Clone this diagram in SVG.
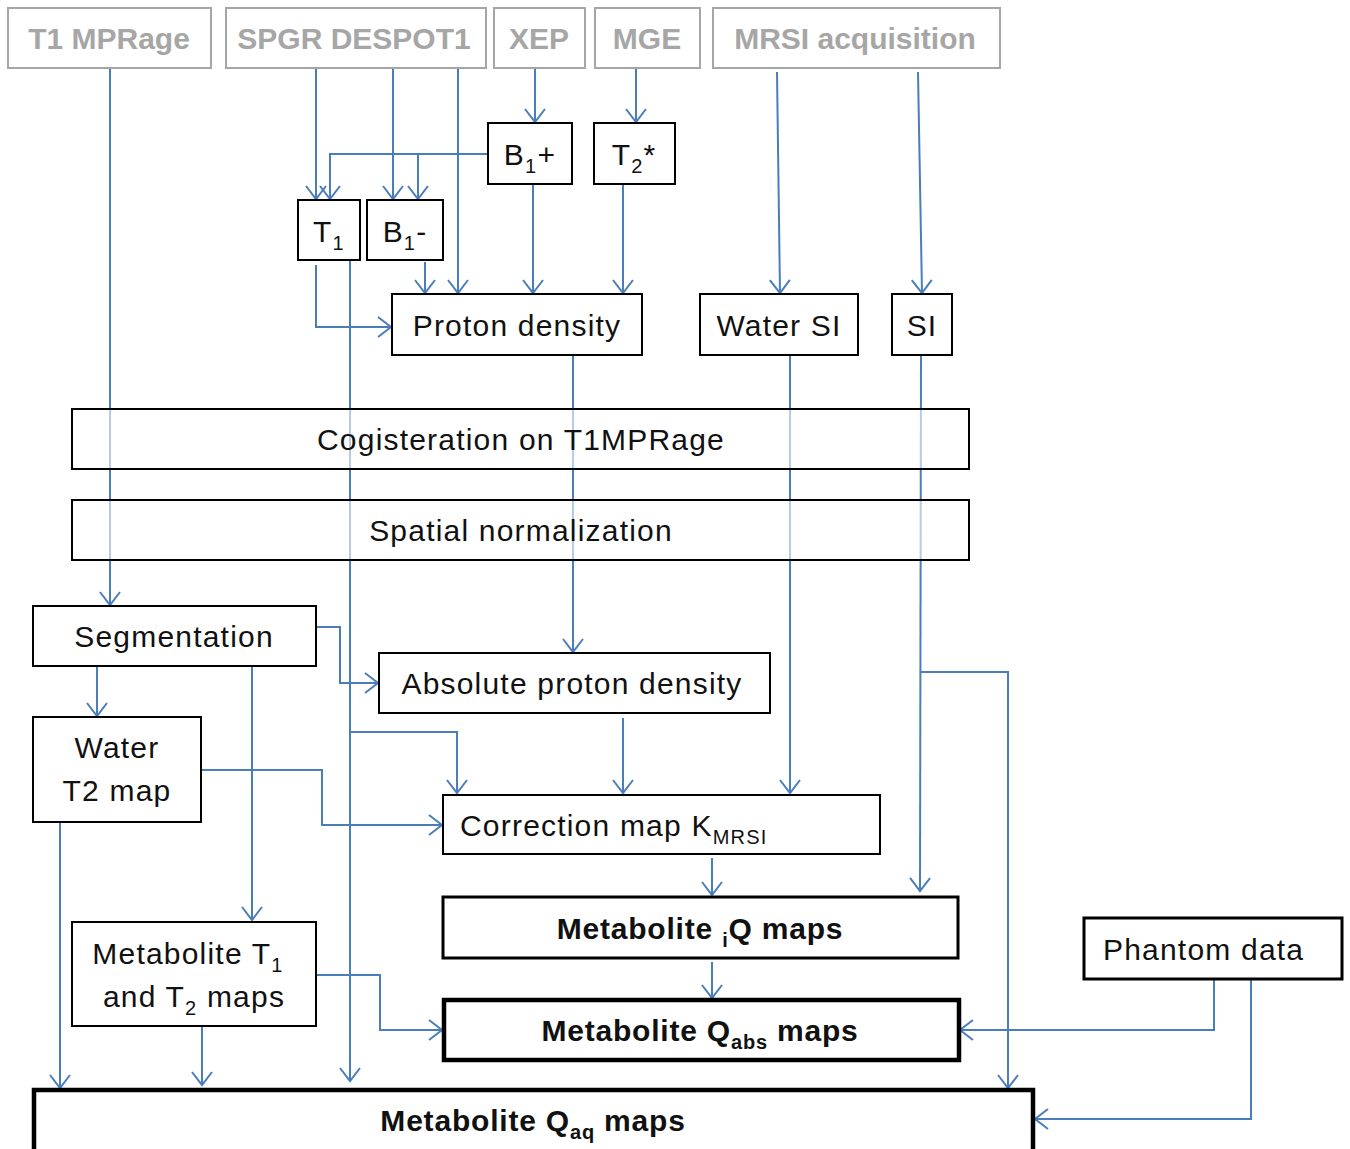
<svg xmlns="http://www.w3.org/2000/svg" width="1350" height="1149" viewBox="0 0 1350 1149">
<defs>
<style>
.src rect{fill:#fff;stroke:#a6a6a6;stroke-width:2}
.src text{fill:#a6a6a6;font-family:"Liberation Sans",Arial,sans-serif;font-weight:bold;font-size:30px;text-anchor:middle}
.n rect{fill:#fff;stroke:#000;stroke-width:2}
.n text{fill:#111;font-family:"Liberation Sans",Arial,sans-serif;font-size:30px;text-anchor:middle;letter-spacing:1.2px}
.wide rect{fill:#fff;fill-opacity:0.6}
.b rect{stroke-width:3}
.bb rect{stroke-width:4.5}
.b text,.bb text{font-weight:bold;letter-spacing:0.8px}
.c path{fill:none;stroke:#4a7ebb;stroke-width:2;marker-end:url(#ah)}
</style>
<marker id="ah" markerUnits="userSpaceOnUse" markerWidth="24" markerHeight="24" viewBox="-14 -12 16 24" refX="0" refY="0" orient="auto">
<path d="M-13,-10 L0,0 L-13,10" fill="none" stroke="#4a7ebb" stroke-width="2"/>
</marker>
</defs>
<rect width="1350" height="1149" fill="#fff"/>

<g id="connectors" class="c">
<path d="M110,68 V605"/>
<path d="M316,68 V199"/>
<path d="M393,68 V199"/>
<path d="M458,68 V293"/>
<path d="M488,154 H330 V199"/>
<path d="M418,154 V199"/>
<path d="M535,68 V122"/>
<path d="M636,68 V122"/>
<path d="M533,184 V293"/>
<path d="M623,184 V293"/>
<path d="M425,262 V293"/>
<path d="M316,265 V327 H391"/>
<path d="M350,260 V1081"/>
<path d="M777,72 L780,293"/>
<path d="M918,72 L922,293"/>
<path d="M573,355 V652"/>
<path d="M790,355 V793"/>
<path d="M921,355 L920,891"/>
<path d="M920,672 H1008 V1088"/>
<path d="M316,627 H340 V683 H378"/>
<path d="M97,666 V716"/>
<path d="M252,666 V920"/>
<path d="M623,718 V793"/>
<path d="M350,732 H457 V793"/>
<path d="M201,770 H322 V825 H442"/>
<path d="M60,822 V1088"/>
<path d="M712,858 V895"/>
<path d="M712,962 V998"/>
<path d="M316,975 H380 V1030 H442"/>
<path d="M202,1026 V1085"/>
<path d="M1214,979 V1030 H960"/>
<path d="M1251,979 V1119 H1035"/>
</g>

<g id="t1mprage" class="src"><rect x="8" y="8" width="203" height="60"/><text x="109" y="49">T1 MPRage</text></g>
<g id="spgr" class="src"><rect x="226" y="8" width="260" height="60"/><text x="354" y="49">SPGR DESPOT1</text></g>
<g id="xep" class="src"><rect x="494" y="8" width="91" height="60"/><text x="539" y="49">XEP</text></g>
<g id="mge" class="src"><rect x="595" y="8" width="105" height="60"/><text x="647" y="49">MGE</text></g>
<g id="mrsi" class="src"><rect x="713" y="8" width="287" height="60"/><text x="855" y="49">MRSI acquisition</text></g>

<g id="b1plus" class="n"><rect x="488" y="123" width="84" height="61"/><text x="530" y="165">B<tspan font-size="20" dy="8">1</tspan><tspan dy="-8">+</tspan></text></g>
<g id="t2star" class="n"><rect x="594" y="123" width="81" height="61"/><text x="634" y="165">T<tspan font-size="20" dy="8">2</tspan><tspan dy="-8">*</tspan></text></g>
<g id="t1" class="n"><rect x="298" y="200" width="62" height="60"/><text x="329" y="242">T<tspan font-size="20" dy="8">1</tspan></text></g>
<g id="b1minus" class="n"><rect x="367" y="200" width="76" height="60"/><text x="405" y="242">B<tspan font-size="20" dy="8">1</tspan><tspan dy="-8">-</tspan></text></g>
<g id="proton" class="n"><rect x="392" y="294" width="250" height="61"/><text x="517" y="336">Proton density</text></g>
<g id="watersi" class="n"><rect x="700" y="294" width="158" height="61"/><text x="779" y="336">Water SI</text></g>
<g id="si" class="n"><rect x="892" y="294" width="60" height="61"/><text x="922" y="336">SI</text></g>
<g id="cogist" class="n wide"><rect x="72" y="409" width="897" height="60"/><text x="521" y="450">Cogisteration on T1MPRage</text></g>
<g id="spatial" class="n wide"><rect x="72" y="500" width="897" height="60"/><text x="521" y="541">Spatial normalization</text></g>
<g id="seg" class="n"><rect x="33" y="606" width="283" height="60"/><text x="174" y="647">Segmentation</text></g>
<g id="abspd" class="n"><rect x="379" y="653" width="391" height="60"/><text x="572" y="694">Absolute proton density</text></g>
<g id="watert2" class="n"><rect x="33" y="717" width="168" height="105"/><text x="117" y="758">Water</text><text x="117" y="801">T2 map</text></g>
<g id="corr" class="n"><rect x="443" y="795" width="437" height="59"/><text x="460" y="836" style="text-anchor:start">Correction map K<tspan font-size="20" dy="8">MRSI</tspan></text></g>
<g id="iq" class="n b"><rect x="443" y="897" width="515" height="61"/><text x="700" y="939">Metabolite <tspan font-size="20" dy="8">i</tspan><tspan dy="-8">Q maps</tspan></text></g>
<g id="metT" class="n"><rect x="72" y="922" width="244" height="104"/><text x="188" y="964">Metabolite T<tspan font-size="20" dy="8">1</tspan></text><text x="194" y="1007">and T<tspan font-size="20" dy="8">2</tspan><tspan dy="-8"> maps</tspan></text></g>
<g id="phantom" class="n b"><rect x="1084" y="918" width="258" height="61"/><text x="1103" y="960" style="text-anchor:start;font-weight:normal;letter-spacing:1.2px">Phantom data</text></g>
<g id="qabs" class="n bb"><rect x="444" y="1000" width="515" height="60"/><text x="700" y="1041">Metabolite Q<tspan font-size="20" dy="8">abs</tspan><tspan dy="-8"> maps</tspan></text></g>
<g id="qaq" class="n bb"><rect x="34" y="1090" width="999" height="70"/><text x="533" y="1131">Metabolite Q<tspan font-size="20" dy="8">aq</tspan><tspan dy="-8"> maps</tspan></text></g>
</svg>
